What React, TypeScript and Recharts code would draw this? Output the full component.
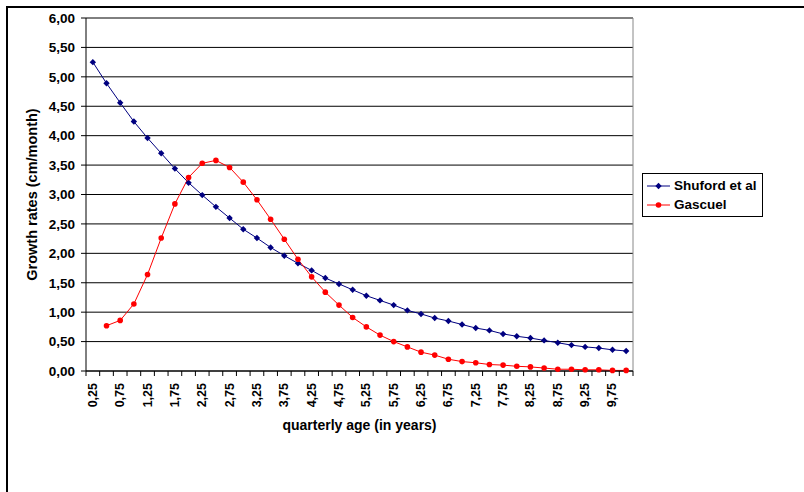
import { CartesianGrid, Label, Line, LineChart, ReferenceLine, XAxis, YAxis } from 'recharts';

const quarters = [
  0.25, 0.5, 0.75, 1, 1.25, 1.5, 1.75, 2, 2.25, 2.5, 2.75, 3, 3.25, 3.5, 3.75, 4, 4.25, 4.5, 4.75, 5,
  5.25, 5.5, 5.75, 6, 6.25, 6.5, 6.75, 7, 7.25, 7.5, 7.75, 8, 8.25, 8.5, 8.75, 9, 9.25, 9.5, 9.75, 10,
];

const shuford = [
  5.25, 4.89, 4.56, 4.24, 3.96, 3.7, 3.44, 3.2, 2.99, 2.79, 2.6, 2.41, 2.26, 2.1, 1.96, 1.83, 1.71, 1.58, 1.48, 1.38,
  1.28, 1.2, 1.12, 1.03, 0.97, 0.9, 0.85, 0.79, 0.73, 0.69, 0.63, 0.59, 0.56, 0.52, 0.48, 0.44, 0.41, 0.39, 0.36, 0.34,
];

const gascuel = [
  null, 0.77, 0.86, 1.14, 1.64, 2.26, 2.84, 3.29, 3.53, 3.58, 3.46, 3.21, 2.91, 2.58, 2.24, 1.9, 1.6, 1.34, 1.12, 0.91,
  0.75, 0.61, 0.5, 0.41, 0.32, 0.27, 0.2, 0.16, 0.14, 0.11, 0.1, 0.08, 0.07, 0.05, 0.03, 0.03, 0.02, 0.02, 0.01, 0.01,
];

const xLabelTicks = [0.25, 0.75, 1.25, 1.75, 2.25, 2.75, 3.25, 3.75, 4.25, 4.75, 5.25, 5.75, 6.25, 6.75, 7.25, 7.75, 8.25, 8.75, 9.25, 9.75];
const yTicks = [0, 0.5, 1, 1.5, 2, 2.5, 3, 3.5, 4, 4.5, 5, 5.5, 6];

const series = [
  { key: 'shuford', name: 'Shuford et al', color: '#000080', marker: 'diamond' },
  { key: 'gascuel', name: 'Gascuel', color: '#ff0000', marker: 'circle' },
];

const data = quarters.map((age, i) => ({ age, shuford: shuford[i], gascuel: gascuel[i] }));

// category boundaries: half a quarter either side of each point
const step = 0.25;
const xMarkTicks = [...quarters.map((q) => q - step / 2), quarters[quarters.length - 1] + step / 2];
const xDomain = [xMarkTicks[0], xMarkTicks[xMarkTicks.length - 1]];

const FONT = '"Liberation Sans", Arial, sans-serif';
const fmt = (v: number) => v.toFixed(2).replace('.', ',');

function XTick({ x, y, payload }: any) {
  const v = payload.value;
  const isLabel = xLabelTicks.includes(v);
  if (!isLabel) {
    return <line x1={x} y1={y} x2={x} y2={y + 5} stroke="#000" />;
  }
  return (
    <text
      x={x + 4}
      y={y + 12}
      transform={`rotate(-90 ${x + 4} ${y + 12})`}
      textAnchor="end"
      fontFamily={FONT}
      fontSize={12.5}
      fontWeight="bold"
      fill="#000"
    >
      {fmt(v)}
    </text>
  );
}

function Diamond({ cx, cy, stroke }: any) {
  if (cx == null || cy == null) return null;
  return <path d={`M${cx},${cy - 3.2}L${cx + 3.2},${cy}L${cx},${cy + 3.2}L${cx - 3.2},${cy}Z`} fill={stroke} />;
}

function Circle({ cx, cy, stroke, value }: any) {
  if (cx == null || cy == null || value == null) return null;
  return <circle cx={cx} cy={cy} r={2.8} fill={stroke} />;
}

function YTitle({ viewBox }: any) {
  const x = viewBox.x + 32;
  const y = viewBox.y + viewBox.height / 2;
  return (
    <text x={x} y={y} transform={`rotate(-90 ${x} ${y})`} textAnchor="middle" dominantBaseline="central"
      fontFamily={FONT} fontSize={14.5} fontWeight="bold" fill="#000">
      Growth rates (cm/month)
    </text>
  );
}

function XTitle({ viewBox }: any) {
  return (
    <text x={viewBox.x + viewBox.width / 2} y={viewBox.y + 59} textAnchor="middle"
      fontFamily={FONT} fontSize={14} fontWeight="bold" fill="#000">
      quarterly age (in years)
    </text>
  );
}

export default function App() {
  return (
    <div style={{ position: 'fixed', left: 0, top: 0, width: 804, height: 492, overflow: 'hidden', background: '#fff' }}>
      <div style={{ position: 'absolute', left: 6, top: 6, width: 900, height: 600, borderTop: '2px solid #000', borderLeft: '2px solid #000' }} />
      <LineChart
        width={804}
        height={492}
        data={data}
        margin={{ top: 18, right: 171, bottom: 0, left: 0 }}
        style={{ position: 'absolute', left: 0, top: 0 }}
      >
        <CartesianGrid vertical={false} stroke="#000" horizontalValues={yTicks} />
        <ReferenceLine x={xDomain[1]} stroke="#888" ifOverflow="visible" />
        <XAxis
          dataKey="age"
          type="number"
          domain={xDomain}
          ticks={[...xMarkTicks, ...xLabelTicks]}
          interval={0}
          allowDataOverflow
          height={121}
          stroke="#000"
          tickLine={false}
          tickSize={0}
          tickMargin={0}
          tick={<XTick />}
        >
          <Label content={<XTitle />} />
        </XAxis>
        <YAxis
          type="number"
          domain={[0, 6]}
          ticks={yTicks}
          interval={0}
          width={86}
          stroke="#000"
          tickSize={5}
          tickMargin={6}
          tickFormatter={fmt}
          tick={{ fill: '#000', fontFamily: FONT, fontSize: 13.5, fontWeight: 'bold' }}
        >
          <Label content={<YTitle />} />
        </YAxis>
        <Line
          dataKey="shuford"
          name="Shuford et al"
          stroke="#000080"
          strokeWidth={1}
          dot={<Diamond />}
          activeDot={false}
          isAnimationActive={false}
        />
        <Line
          dataKey="gascuel"
          name="Gascuel"
          stroke="#ff0000"
          strokeWidth={1}
          dot={<Circle />}
          activeDot={false}
          isAnimationActive={false}
        />
      </LineChart>
      <div
        style={{
          position: 'absolute',
          left: 642,
          top: 173,
          width: 119,
          height: 40,
          border: '1px solid #000',
          background: '#fff',
          fontFamily: FONT,
          fontSize: 13.5,
          fontWeight: 'bold',
          paddingTop: 2,
          boxSizing: 'content-box',
        }}
      >
        {series.map((s) => (
          <div key={s.key} style={{ display: 'flex', alignItems: 'center', height: 19, paddingLeft: 4, whiteSpace: 'nowrap' }}>
            <svg width={24} height={10} style={{ marginRight: 3, flexShrink: 0 }}>
              <line x1={0} y1={5} x2={23} y2={5} stroke={s.color} strokeWidth={1} />
              {s.marker === 'diamond' ? (
                <path d="M11.5,1.8L14.7,5L11.5,8.2L8.3,5Z" fill={s.color} />
              ) : (
                <circle cx={11.5} cy={5} r={2.8} fill={s.color} />
              )}
            </svg>
            <span>{s.name}</span>
          </div>
        ))}
      </div>
    </div>
  );
}
